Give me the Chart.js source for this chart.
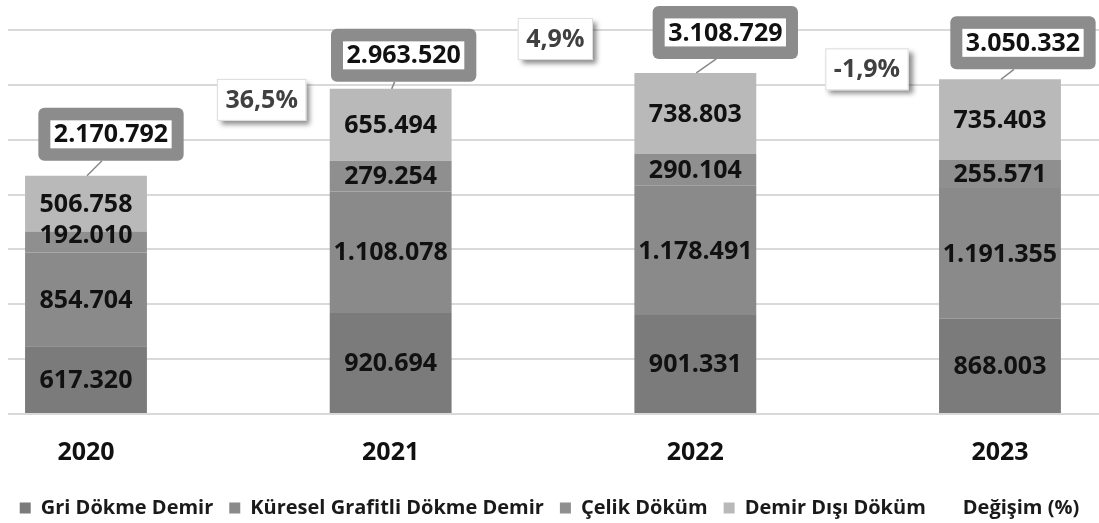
<!DOCTYPE html>
<html>
<head>
<meta charset="utf-8">
<script src="https://cdn.jsdelivr.net/npm/chart.js@4.4.1/dist/chart.umd.min.js"></script>
<style>
  html, body { margin: 0; padding: 0; background: #fff; }
  #wrap { width: 1099px; height: 523px; position: relative; }
</style>
</head>
<body>
<div id="wrap"><canvas id="chart"></canvas></div>
<script>
const years = ["2020", "2021", "2022", "2023"];
const griDokme = [617320, 920694, 901331, 868003];
const kuresel = [854704, 1108078, 1178491, 1191355];
const celik = [192010, 279254, 290104, 255571];
const demirDisi = [506758, 655494, 738803, 735403];
const totals = [2170792, 2963520, 3108729, 3050332];
const degisim = [null, 36.5, 4.9, -1.9];

const FONT = "'Open Sans', sans-serif";

// label placement tweaks (px)
const totalShift = [[25, 15], [13, 7], [30, 14], [23, 10]];
const pctShift = [null, [-129, 11], [-140, -34], [-133, -10]];

function fmt(v) {
  return String(v).replace(/\B(?=(\d{3})+(?!\d))/g, ".");
}

function fmtPct(v) {
  return v.toFixed(1).replace(".", ",") + "%";
}

function points(values) {
  return values.map((y, i) => ({ x: i, y }));
}

const labelPlugin = {
  id: "labels",
  afterDatasetsDraw(chart) {
    const ctx = chart.ctx;
    const bars = chart.getSortedVisibleDatasetMetas().filter((m) => m.type === "bar");
    const line = chart.getSortedVisibleDatasetMetas().find((m) => m.type === "line");
    ctx.save();
    ctx.font = `700 25px ${FONT}`;
    ctx.textAlign = "center";
    ctx.textBaseline = "middle";

    // segment values
    ctx.fillStyle = "#111";
    for (const meta of bars) {
      meta.data.forEach((bar, i) => {
        const v = chart.data.datasets[meta.index].data[i].y;
        let y = (bar.y + bar.base) / 2;
        if (bar.base - bar.y < 24) y -= 7;
        ctx.fillText(fmt(v), bar.x, y + 1);
      });
    }

    // totals in callout boxes
    const top = bars[bars.length - 1];
    top.data.forEach((bar, i) => {
      const text = fmt(totals[i]);
      const w = ctx.measureText(text).width;
      const cx = bar.x + totalShift[i][0];
      const bottom = bar.y - totalShift[i][1];
      const ow = w + 31, oh = 53;
      ctx.strokeStyle = "#8a8a8a";
      ctx.lineWidth = 1.5;
      ctx.beginPath();
      ctx.moveTo(bar.x + 1, bar.y);
      ctx.lineTo(cx - 9, bottom);
      ctx.stroke();
      ctx.fillStyle = "#8c8c8c";
      ctx.beginPath();
      ctx.roundRect(cx - ow / 2, bottom - oh, ow, oh, 6);
      ctx.fill();
      ctx.fillStyle = "#fff";
      ctx.fillRect(cx - (w + 7) / 2, bottom - oh / 2 - 14, w + 7, 28);
      ctx.fillStyle = "#111";
      ctx.fillText(text, cx, bottom - oh / 2 + 1);
    });

    // change % boxes
    line.data.forEach((pt, i) => {
      const v = degisim[i];
      if (v === null) return;
      const text = fmtPct(v);
      const w = ctx.measureText(text).width;
      const cx = pt.x + pctShift[i][0];
      const cy = top.data[i].y + pctShift[i][1];
      const bw = w + 17, bh = 42;
      ctx.save();
      ctx.shadowColor = "rgba(0,0,0,0.45)";
      ctx.shadowBlur = 5;
      ctx.shadowOffsetX = 4;
      ctx.shadowOffsetY = 4;
      ctx.fillStyle = "#fff";
      ctx.fillRect(cx - bw / 2, cy - bh / 2, bw, bh);
      ctx.restore();
      ctx.strokeStyle = "#dcdcdc";
      ctx.lineWidth = 1;
      ctx.strokeRect(cx - bw / 2 + 0.5, cy - bh / 2 + 0.5, bw - 1, bh - 1);
      ctx.fillStyle = "#404040";
      ctx.fillText(text, cx, cy + 1);
    });
    ctx.restore();
  },
};

new Chart(document.getElementById("chart"), {
  type: "bar",
  data: {
    datasets: [
      { label: "Gri Dökme Demir", data: points(griDokme), backgroundColor: "#7b7b7b", stack: "s" },
      { label: "Küresel Grafitli Dökme Demir", data: points(kuresel), backgroundColor: "#8a8a8a", stack: "s" },
      { label: "Çelik Döküm", data: points(celik), backgroundColor: "#8f8f8f", stack: "s" },
      { label: "Demir Dışı Döküm", data: points(demirDisi), backgroundColor: "#b9b9b9", stack: "s" },
      {
        type: "line", label: "Değişim (%)", data: points(degisim), yAxisID: "y2",
        showLine: false, pointRadius: 0, borderColor: "rgba(0,0,0,0)", backgroundColor: "rgba(0,0,0,0)",
      },
    ],
  },
  options: {
    responsive: true,
    maintainAspectRatio: false,
    animation: false,
    layout: { padding: { top: 30, left: 0, right: 0, bottom: -5 } },
    datasets: { bar: { barPercentage: 1, categoryPercentage: 0.4, borderWidth: 0 } },
    scales: {
      x: {
        type: "linear", min: -0.256, max: 3.325, stacked: true, offset: false,
        grid: { display: false, offset: false }, border: { display: false },
        afterBuildTicks(scale) { scale.ticks = years.map((_, i) => ({ value: i })); },
        afterFit(scale) { scale.height = 68; },
        ticks: {
          callback: (v) => years[v],
          font: { family: FONT, size: 25, weight: "700" },
          color: "#111", padding: 16, maxRotation: 0, autoSkip: false,
        },
      },
      y: {
        stacked: true, min: 0, max: 3500000,
        ticks: { display: false, stepSize: 500000 },
        grid: { color: "#d9d9d9", lineWidth: 2, drawTicks: false },
        border: { display: false },
        afterFit(scale) { scale.width = 8; },
      },
      y2: { display: false, min: -10, max: 50 },
    },
    plugins: {
      tooltip: { enabled: false },
      legend: {
        position: "bottom",
        labels: {
          font: { family: FONT, size: 20, weight: "700" },
          color: "#1a1a1a",
          boxWidth: 11,
          boxHeight: 11,
          padding: 16,
          generateLabels(chart) {
            const items = Chart.defaults.plugins.legend.labels.generateLabels(chart);
            for (const it of items) {
              if (chart.data.datasets[it.datasetIndex].type === "line") {
                it.fillStyle = "rgba(0,0,0,0)";
                it.strokeStyle = "rgba(0,0,0,0)";
                it.lineWidth = 0;
              }
            }
            return items;
          },
        },
      },
    },
  },
  plugins: [labelPlugin],
});
</script>
</body>
</html>
